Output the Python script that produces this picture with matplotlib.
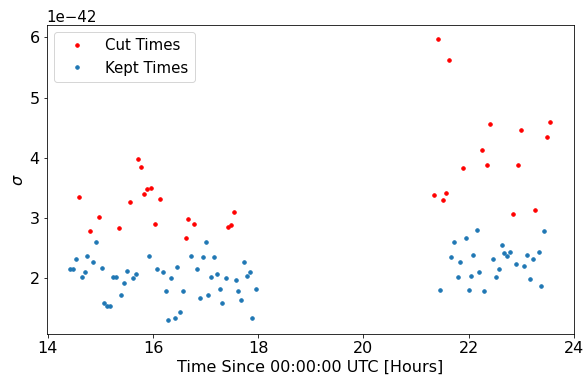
import numpy as np
import matplotlib
matplotlib.use("Agg")
import matplotlib.pyplot as plt

# cut times (hours) and sigma (x1e-42)
cut_t = [14.59, 14.80, 14.97, 15.35, 15.56, 15.72, 15.78, 15.83, 15.88, 15.97,
         16.03, 16.13, 16.62, 16.67, 16.78, 17.43, 17.48, 17.53,
         21.35, 21.41, 21.51, 21.57, 21.62, 21.89, 22.25, 22.35, 22.41,
         22.84, 22.94, 23.00, 23.26, 23.49, 23.54]
cut_s = [3.35, 2.79, 3.02, 2.84, 3.27, 3.98, 3.85, 3.40, 3.49, 3.50,
         2.91, 3.32, 2.68, 2.99, 2.91, 2.86, 2.89, 3.11,
         3.39, 5.98, 3.30, 3.42, 5.62, 3.83, 4.14, 3.89, 4.57,
         3.07, 3.89, 4.47, 3.13, 4.35, 4.60]

# kept times
kept_t = [14.42, 14.47, 14.54, 14.64, 14.70, 14.75, 14.86, 14.92, 15.02, 15.07,
          15.13, 15.18, 15.24, 15.30, 15.40, 15.45, 15.51, 15.62, 15.68, 15.92,
          16.08, 16.19, 16.24, 16.29, 16.35, 16.41, 16.46, 16.52, 16.57, 16.73,
          16.84, 16.89, 16.95, 17.00, 17.05, 17.10, 17.15, 17.21, 17.27, 17.32,
          17.38, 17.57, 17.62, 17.68, 17.73, 17.79, 17.84, 17.89, 17.95,
          21.46, 21.67, 21.73, 21.79, 21.84, 21.94, 22.00, 22.05, 22.09, 22.15,
          22.20, 22.30, 22.47, 22.52, 22.57, 22.63, 22.68, 22.73, 22.79, 22.90,
          23.06, 23.11, 23.16, 23.22, 23.33, 23.38, 23.44]
kept_s = [2.16, 2.16, 2.32, 2.02, 2.11, 2.38, 2.27, 2.61, 2.17, 1.59,
          1.54, 1.55, 2.03, 2.02, 1.72, 1.92, 2.13, 2.00, 2.07, 2.38,
          2.15, 2.11, 1.79, 1.31, 2.00, 1.35, 2.19, 1.45, 1.79, 2.38,
          2.16, 1.67, 2.35, 2.61, 1.72, 2.03, 2.35, 2.08, 1.83, 1.59,
          2.01, 1.97, 1.79, 1.65, 2.27, 2.04, 2.11, 1.34, 1.83,
          1.81, 2.36, 2.60, 2.03, 2.28, 2.68, 1.81, 2.04, 2.39, 2.80,
          2.11, 1.80, 2.32, 2.03, 2.16, 2.55, 2.43, 2.38, 2.44, 2.24,
          2.20, 2.39, 1.99, 2.32, 2.44, 1.87, 2.79]

scale = 1e-42

fig, ax = plt.subplots(figsize=(585/72, 378/72), dpi=72)
fig.subplots_adjust(left=0.08, right=0.981, top=0.935, bottom=0.116)

ax.plot(np.array(cut_t), np.array(cut_s)*scale, '.', ms=7, color='red', label='Cut Times')
ax.plot(np.array(kept_t), np.array(kept_s)*scale, '.', ms=7, color='#1f77b4', label='Kept Times')

ax.set_xlim(13.98, 24.0)
ax.set_xticks([14, 16, 18, 20, 22, 24])
ax.set_xlabel('Time Since 00:00:00 UTC [Hours]', fontsize=16)
ax.set_ylabel(r'$\sigma$', fontsize=16)
ax.tick_params(labelsize=16)
ax.yaxis.get_offset_text().set_fontsize(15)
ax.legend(loc='upper left', fontsize=15, handlelength=2.2)

fig.savefig('out.png', dpi=72)
